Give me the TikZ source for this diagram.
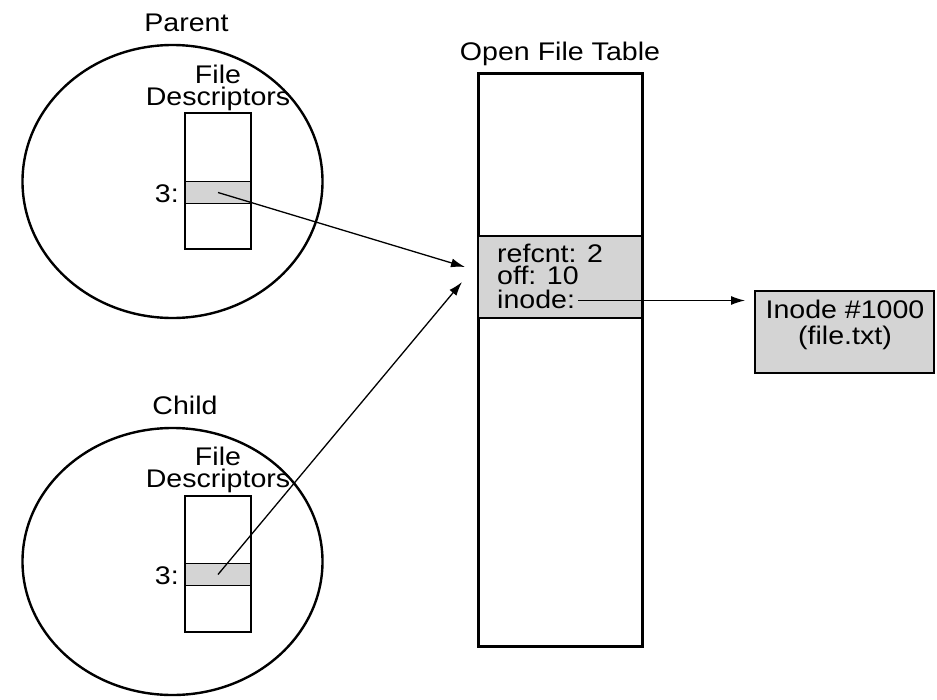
\documentclass[tikz,border=0pt]{standalone}
\usepackage{fontspec}
\setmainfont{Liberation Sans}[FakeStretch=1.12]
\usetikzlibrary{arrows.meta,shapes.geometric}
\definecolor{cellgray}{gray}{0.83}
\begin{document}
\begin{tikzpicture}[x=1pt,y=-1pt,
  lbl/.style={anchor=base,inner sep=0pt,font=\fontsize{25.5}{30}\selectfont},
  lbll/.style={lbl,anchor=base west},
  proc/.style={draw,ellipse,line width=2.4pt,inner sep=0pt},
  fdbox/.style={draw,line width=1.3pt,inner sep=0pt,minimum width=66pt,minimum height=136pt},
  fdcell/.style={draw,fill=cellgray,line width=1.3pt,inner sep=0pt,minimum width=66pt,minimum height=22pt},
  tbl/.style={draw,line width=3pt,inner sep=0pt,minimum width=164pt},
  tblrow/.style={draw,fill=cellgray,line width=2.4pt,inner sep=0pt,minimum width=164pt,minimum height=82pt},
  inodebox/.style={draw,fill=cellgray,line width=2.5pt,inner sep=0pt,minimum width=179pt,minimum height=82pt},
  ptr/.style={line width=1.3pt,-{Latex[length=14pt,width=9pt]}}
]
\useasboundingbox (0,0) rectangle (937,699);

% Parent
\node[lbl] (parentlbl) at (186.5,31) {Parent};
\node[proc,minimum width=300pt,minimum height=273pt] (parent) at (172.5,181.5) {};
\node[lbl] (pfile) at (218,83) {File};
\node[lbl] (pdesc) at (218,105) {Descriptors};
\node[fdbox] (pfd) at (218,181) {};
\node[fdcell] (pfd3) at (218,192.5) {};
\node[lbl,anchor=base east] (pthree) at (179,202) {3:};

% Child
\node[lbl] (childlbl) at (185,414) {Child};
\node[proc,minimum width=300pt,minimum height=267pt] (child) at (172.5,561.5) {};
\node[lbl] (cfile) at (218,465) {File};
\node[lbl] (cdesc) at (218,487) {Descriptors};
\node[fdbox] (cfd) at (218,564) {};
\node[fdcell] (cfd3) at (218,574.5) {};
\node[lbl,anchor=base east] (cthree) at (179,584) {3:};

% Open file table
\node[lbl] (oftlbl) at (560,60) {Open File Table};
\node[tbl,minimum height=573pt] (oft) at (560,359.5) {};
\node[tblrow] (entry) at (560,277) {};
\node[lbll] (refcnt) at (497,262) {refcnt: 2};
\node[lbll] (off) at (497,284.5) {off: 10};
\node[lbll] (inode) at (497,308) {inode:};

% Inode
\node[inodebox] (ibox) at (844.5,332) {};
\node[lbl] (inum) at (845,318) {Inode \#1000};
\node[lbl] (ifile) at (845,344) {(file.txt)};

% Pointers
\coordinate (ptip) at (465,267);
\coordinate (ctip) at (462,282);
\coordinate (istart) at (578,300.5);
\coordinate (itip) at (745,300.5);
\draw[ptr] (pfd3.center) -- (ptip);
\draw[ptr] (cfd3.center) -- (ctip);
\draw[ptr] (istart) -- (itip);
\end{tikzpicture}
\end{document}
